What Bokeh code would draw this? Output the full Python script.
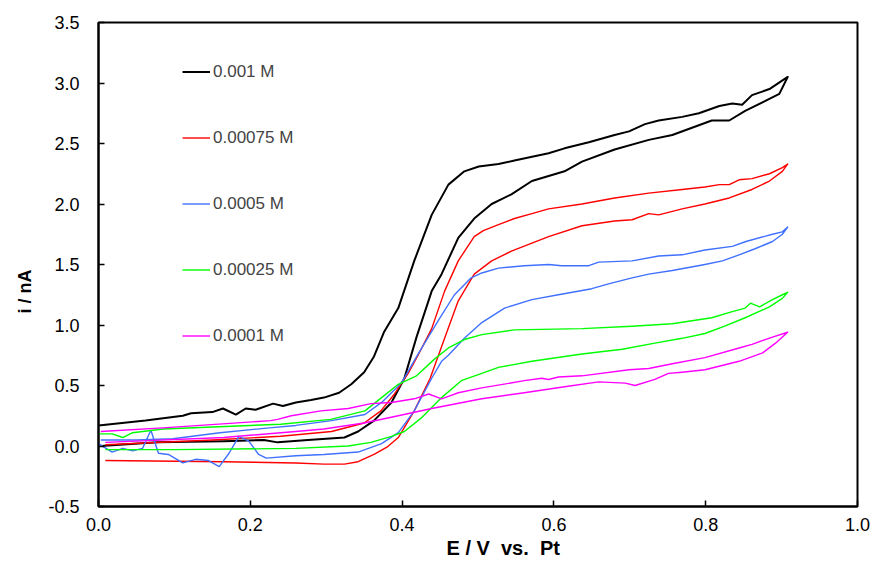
from bokeh.plotting import figure
from bokeh.models import Range1d, SingleIntervalTicker, NumeralTickFormatter, Legend, LegendItem, Title
from bokeh.embed import file_html
from bokeh.resources import INLINE

labels = ["0.001 M", "0.00075 M", "0.0005 M", "0.00025 M", "0.0001 M"]
colors = ["#000000", "#FF0000", "#4070FF", "#00FF00", "#FF00FF"]
widths = [2.0, 1.4, 1.4, 1.4, 1.4]
x_title = "E / V \u00a0vs. \u00a0Pt"
y_title = "i / nA"

# 0.001 M : forward (lower) then reverse (upper) branch
black_x = [0.003, 0.078, 0.165, 0.218, 0.236, 0.276, 0.324, 0.342, 0.363, 0.386, 0.403, 0.419, 0.439, 0.452,
           0.474, 0.495, 0.518, 0.544, 0.571, 0.614, 0.637, 0.680, 0.725, 0.756, 0.773, 0.808, 0.831, 0.852,
           0.878, 0.897, 0.908,
           0.884, 0.861, 0.848, 0.835, 0.818, 0.791, 0.769, 0.738, 0.720, 0.699, 0.680, 0.646, 0.614, 0.593,
           0.548, 0.527, 0.501, 0.482, 0.461, 0.439, 0.416, 0.395, 0.376, 0.363, 0.350, 0.333, 0.317, 0.297,
           0.280, 0.260, 0.243, 0.230, 0.207, 0.194, 0.181, 0.164, 0.150, 0.122, 0.111, 0.062, 0.0]
black_y = [0.00, 0.03, 0.04, 0.05, 0.03, 0.05, 0.07, 0.12, 0.21, 0.36, 0.56, 0.90, 1.28, 1.42,
           1.72, 1.88, 2.00, 2.08, 2.19, 2.27, 2.35, 2.45, 2.53, 2.57, 2.61, 2.69, 2.69, 2.77,
           2.85, 2.91, 3.05,
           2.95, 2.90, 2.82, 2.83, 2.81, 2.75, 2.72, 2.69, 2.66, 2.60, 2.57, 2.51, 2.46, 2.42,
           2.36, 2.33, 2.31, 2.27, 2.16, 1.91, 1.53, 1.14, 0.94, 0.74, 0.61, 0.51, 0.44, 0.40,
           0.38, 0.36, 0.33, 0.35, 0.30, 0.31, 0.26, 0.31, 0.28, 0.27, 0.25, 0.21, 0.17]

# 0.00075 M
red_x = [0.009, 0.165, 0.260, 0.297, 0.324, 0.342, 0.363, 0.380, 0.395, 0.416, 0.437, 0.456, 0.474, 0.495,
         0.518, 0.544, 0.593, 0.637, 0.680, 0.703, 0.725, 0.738, 0.769, 0.799, 0.831, 0.861, 0.884, 0.901, 0.908,
         0.901, 0.884, 0.861, 0.844, 0.831, 0.818, 0.799, 0.769, 0.725, 0.680, 0.637, 0.593, 0.571, 0.548,
         0.527, 0.507, 0.495, 0.474, 0.456, 0.439, 0.421, 0.408, 0.390, 0.372, 0.350, 0.307, 0.240, 0.150, 0.009]
red_y = [-0.12, -0.13, -0.14, -0.15, -0.15, -0.13, -0.07, -0.01, 0.07, 0.29, 0.56, 0.89, 1.20, 1.42,
         1.53, 1.61, 1.73, 1.82, 1.86, 1.87, 1.92, 1.91, 1.96, 2.00, 2.05, 2.12, 2.19, 2.27, 2.33,
         2.30, 2.25, 2.21, 2.20, 2.16, 2.16, 2.14, 2.12, 2.09, 2.05, 2.00, 1.96, 1.92, 1.88,
         1.83, 1.78, 1.73, 1.53, 1.28, 0.97, 0.75, 0.60, 0.43, 0.29, 0.19, 0.12, 0.08, 0.05, 0.01]

# 0.0005 M
blue_x = [0.0, 0.018, 0.032, 0.045, 0.058, 0.069, 0.079, 0.092, 0.111, 0.128, 0.145, 0.159, 0.172, 0.185,
          0.198, 0.211, 0.221, 0.260, 0.297, 0.342, 0.373, 0.395, 0.416, 0.439, 0.452, 0.461, 0.482, 0.505,
          0.535, 0.571, 0.606, 0.650, 0.672, 0.703, 0.725, 0.756, 0.799, 0.822, 0.844, 0.865, 0.888, 0.901, 0.908,
          0.901, 0.888, 0.853, 0.835, 0.799, 0.769, 0.738, 0.703, 0.659, 0.646, 0.610, 0.593, 0.561, 0.527,
          0.505, 0.491, 0.469, 0.448, 0.421, 0.399, 0.373, 0.351, 0.307, 0.260, 0.225, 0.160, 0.098, 0.050, 0.003]
blue_y = [0.02, -0.05, -0.02, -0.04, -0.02, 0.13, -0.06, -0.07, -0.14, -0.11, -0.12, -0.17, -0.06, 0.08,
          0.04, -0.07, -0.10, -0.08, -0.07, -0.05, 0.02, 0.11, 0.29, 0.56, 0.70, 0.75, 0.89, 1.02,
          1.14, 1.21, 1.25, 1.30, 1.34, 1.39, 1.42, 1.45, 1.50, 1.53, 1.58, 1.63, 1.69, 1.75, 1.81,
          1.77, 1.75, 1.69, 1.65, 1.62, 1.58, 1.57, 1.53, 1.52, 1.49, 1.49, 1.50, 1.49, 1.47,
          1.43, 1.39, 1.25, 1.04, 0.76, 0.52, 0.36, 0.26, 0.21, 0.17, 0.15, 0.11, 0.06, 0.05, 0.05]

# 0.00025 M
green_x = [0.009, 0.100, 0.260, 0.329, 0.359, 0.386, 0.403, 0.425, 0.452, 0.478, 0.505, 0.527, 0.571, 0.637,
           0.690, 0.733, 0.769, 0.799, 0.825, 0.852, 0.884, 0.901, 0.908,
           0.901, 0.888, 0.871, 0.859, 0.852, 0.835, 0.808, 0.756, 0.703, 0.637, 0.548, 0.505, 0.482, 0.461,
           0.443, 0.419, 0.395, 0.373, 0.351, 0.306, 0.240, 0.085, 0.045, 0.032, 0.018, 0.0]
green_y = [-0.03, -0.03, -0.02, 0.00, 0.03, 0.08, 0.12, 0.23, 0.40, 0.54, 0.60, 0.65, 0.70, 0.76,
           0.80, 0.85, 0.89, 0.93, 0.99, 1.06, 1.15, 1.22, 1.27,
           1.25, 1.21, 1.15, 1.18, 1.14, 1.11, 1.06, 1.01, 0.99, 0.97, 0.96, 0.92, 0.88, 0.81,
           0.72, 0.58, 0.51, 0.40, 0.29, 0.22, 0.18, 0.14, 0.11, 0.07, 0.10, 0.10]

# 0.0001 M
magenta_x = [0.009, 0.165, 0.260, 0.297, 0.350, 0.395, 0.439, 0.505, 0.561, 0.614, 0.659, 0.694, 0.707, 0.733,
             0.751, 0.769, 0.799, 0.844, 0.875, 0.892, 0.908,
             0.888, 0.861, 0.844, 0.799, 0.756, 0.725, 0.699, 0.637, 0.606, 0.593, 0.584, 0.561, 0.505, 0.474,
             0.461, 0.452, 0.435, 0.416, 0.386, 0.359, 0.329, 0.293, 0.254, 0.236, 0.227, 0.085, 0.003]
magenta_y = [0.03, 0.07, 0.12, 0.14, 0.19, 0.25, 0.31, 0.39, 0.44, 0.49, 0.53, 0.52, 0.50, 0.55,
             0.60, 0.61, 0.63, 0.70, 0.77, 0.85, 0.94,
             0.90, 0.84, 0.81, 0.73, 0.68, 0.64, 0.63, 0.58, 0.57, 0.55, 0.56, 0.54, 0.48, 0.44,
             0.41, 0.39, 0.43, 0.39, 0.36, 0.35, 0.31, 0.29, 0.25, 0.22, 0.21, 0.15, 0.12]

series = [(black_x, black_y), (red_x, red_y), (blue_x, blue_y), (green_x, green_y), (magenta_x, magenta_y)]

p = figure(width=875, height=568, output_backend="svg", toolbar_location=None,
           x_range=Range1d(0.0, 1.0), y_range=Range1d(-0.5, 3.5))
p.min_border_left = 98
p.min_border_right = 18
p.min_border_top = 22
p.min_border_bottom = 62
p.background_fill_color = "white"
p.border_fill_color = "white"
p.outline_line_color = "black"
p.outline_line_width = 2
p.xgrid.visible = False
p.ygrid.visible = False

FONT = "Liberation Sans"
p.xaxis.ticker = SingleIntervalTicker(interval=0.2)
p.yaxis.ticker = SingleIntervalTicker(interval=0.5)
for ax in (p.xaxis[0], p.yaxis[0]):
    ax.formatter = NumeralTickFormatter(format="0.0")
    ax.axis_line_width = 2
    ax.axis_line_color = "black"
    ax.major_tick_in = 6
    ax.major_tick_out = 0
    ax.major_tick_line_width = 1.5
    ax.minor_tick_in = 0
    ax.minor_tick_out = 0
    ax.major_label_text_font = FONT
    ax.major_label_text_font_size = "18px"
    ax.major_label_text_color = "black"

p.xaxis.major_label_standoff = 11
p.yaxis.major_label_standoff = 19

# axis titles, placed off-centre as in the reference
p.add_layout(Title(text=x_title, align="left", offset=348, standoff=2,
                   text_font=FONT, text_font_size="20px", text_font_style="bold",
                   text_color="black"), "below")
p.add_layout(Title(text=y_title, align="left", offset=193, standoff=22,
                   text_font=FONT, text_font_size="18px", text_font_style="bold",
                   text_color="black"), "left")

items = []
for (xs, ys), lab, col, w in zip(series, labels, colors, widths):
    r = p.line(xs, ys, line_color=col, line_width=w, line_join="round")
    items.append(LegendItem(label=lab, renderers=[r]))

legend = Legend(items=items, location=(84, 160), orientation="vertical",
                glyph_width=28, glyph_height=21, label_height=21, spacing=45,
                padding=0, margin=0, label_standoff=3,
                border_line_alpha=0, background_fill_alpha=0,
                label_text_font=FONT, label_text_font_size="17px")
p.add_layout(legend)

open("out.html", "w").write(file_html(p, INLINE))
